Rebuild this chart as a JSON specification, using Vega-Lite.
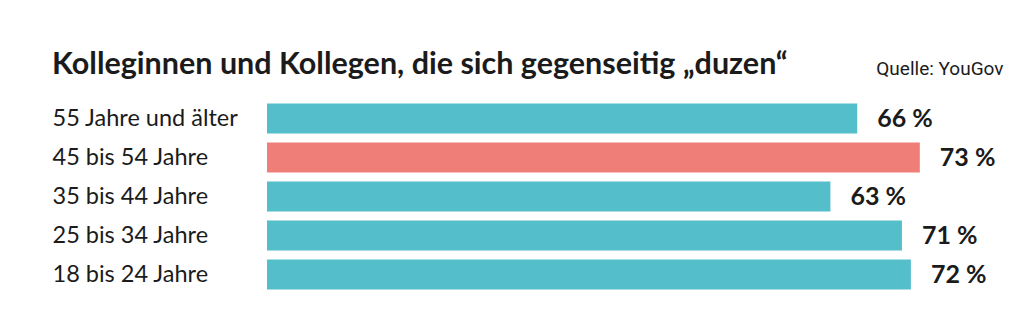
{
  "$schema": "https://vega.github.io/schema/vega-lite/v6.json",
  "autosize": "none",
  "width": 736,
  "height": 195,
  "padding": {"left": 267, "top": 99, "right": 21, "bottom": 38},
  "background": "white",
  "config": {"view": {"stroke": null}},
  "title": {
    "text": "Kolleginnen und Kollegen, die sich gegenseitig „duzen“",
    "anchor": "start",
    "frame": "bounds",
    "orient": "top",
    "baseline": "alphabetic",
    "offset": -45,
    "font": "Lato",
    "fontSize": 30.5,
    "fontWeight": "bold",
    "color": "#1b1b1b"
  },
  "data": {
    "values": [
      {"Altersgruppe": "55 Jahre und älter", "Anteil": 66, "Label": "66 %"},
      {"Altersgruppe": "45 bis 54 Jahre", "Anteil": 73, "Label": "73 %"},
      {"Altersgruppe": "35 bis 44 Jahre", "Anteil": 63, "Label": "63 %"},
      {"Altersgruppe": "25 bis 34 Jahre", "Anteil": 71, "Label": "71 %"},
      {"Altersgruppe": "18 bis 24 Jahre", "Anteil": 72, "Label": "72 %"}
    ]
  },
  "encoding": {
    "y": {
      "field": "Altersgruppe",
      "type": "nominal",
      "sort": null,
      "scale": {"paddingInner": 0.226, "paddingOuter": 0.113},
      "axis": {
        "title": null,
        "orient": "left",
        "labelAlign": "left",
        "labelPadding": 215,
        "labelLimit": 400,
        "ticks": false,
        "domain": false,
        "labelFont": "Lato",
        "labelFontSize": 23.5,
        "labelColor": "#1b1b1b"
      }
    },
    "x": {
      "field": "Anteil",
      "type": "quantitative",
      "scale": {"domain": [0, 82.3], "nice": false},
      "axis": {
        "orient": "top",
        "labels": false,
        "ticks": false,
        "domain": false,
        "grid": false,
        "title": "Quelle: YouGov",
        "titleAnchor": "end",
        "titleAlign": "right",
        "titleBaseline": "alphabetic",
        "titlePadding": 25,
        "titleFont": "Roboto",
        "titleFontSize": 19,
        "titleFontWeight": "normal",
        "titleColor": "#1b1b1b"
      }
    }
  },
  "layer": [
    {
      "mark": {"type": "bar"},
      "encoding": {
        "color": {
          "field": "Altersgruppe",
          "type": "nominal",
          "scale": {
            "domain": ["55 Jahre und älter", "45 bis 54 Jahre", "35 bis 44 Jahre", "25 bis 34 Jahre", "18 bis 24 Jahre"],
            "range": ["#55BECB", "#F07E78", "#55BECB", "#55BECB", "#55BECB"]
          },
          "legend": null
        }
      }
    },
    {
      "mark": {
        "type": "text",
        "align": "left",
        "baseline": "middle",
        "dx": 20,
        "font": "Lato",
        "fontSize": 25,
        "fontWeight": "bold",
        "color": "#1b1b1b"
      },
      "encoding": {
        "text": {"field": "Label", "type": "nominal"}
      }
    }
  ]
}
